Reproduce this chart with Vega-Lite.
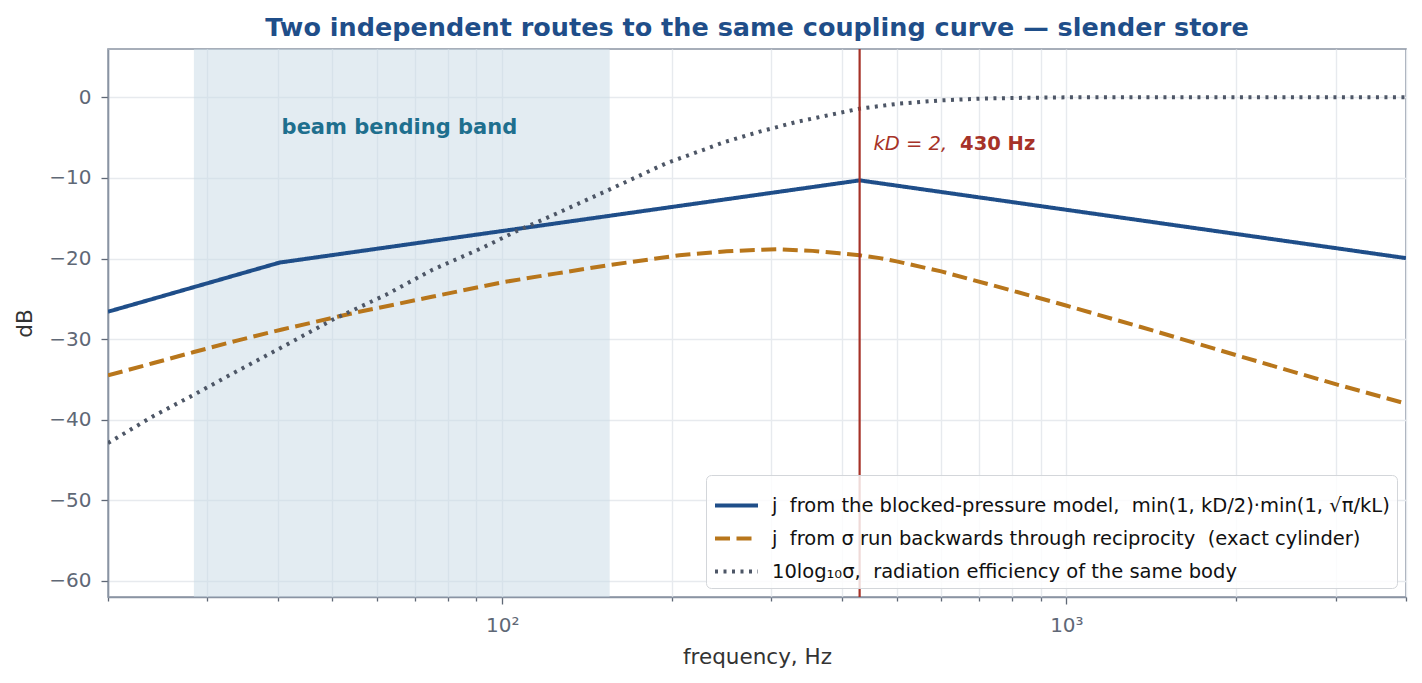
{
  "$schema": "https://vega.github.io/schema/vega-lite/v6.json",
  "width": 1298,
  "height": 548,
  "autosize": {"type": "none"},
  "padding": {"left": 108, "top": 49, "right": 16, "bottom": 86},
  "title": {
    "text": "Two independent routes to the same coupling curve — slender store",
    "fontSize": 25.5,
    "fontWeight": "bold",
    "color": "#1f4e89",
    "font": "DejaVu Sans",
    "offset": 6
  },
  "config": {
    "font": "DejaVu Sans",
    "view": {"stroke": "#8a94a3", "strokeWidth": 1.6},
    "axis": {
      "labelFont": "DejaVu Sans",
      "labelFontSize": 20,
      "labelColor": "#5f6876",
      "titleFont": "DejaVu Sans",
      "titleFontSize": 21.5,
      "titleFontWeight": "normal",
      "titleColor": "#333333",
      "domainColor": "#8a94a3",
      "domainWidth": 1.6,
      "tickColor": "#5f6876",
      "tickWidth": 1.3,
      "gridColor": "#e7eaee",
      "gridWidth": 1.4
    }
  },
  "datasets": {
    "curves": [
      {"f": 20, "db": -26.6, "series": "blocked"},
      {"f": 40.3, "db": -20.5, "series": "blocked"},
      {"f": 430, "db": -10.3, "series": "blocked"},
      {"f": 4000, "db": -19.95, "series": "blocked"},

      {"f": 20, "db": -34.5, "series": "recip"},
      {"f": 24, "db": -33.0, "series": "recip"},
      {"f": 28.4, "db": -31.6, "series": "recip"},
      {"f": 34, "db": -30.15, "series": "recip"},
      {"f": 40.7, "db": -28.8, "series": "recip"},
      {"f": 55, "db": -26.7, "series": "recip"},
      {"f": 75, "db": -24.75, "series": "recip"},
      {"f": 100, "db": -22.95, "series": "recip"},
      {"f": 125, "db": -21.84, "series": "recip"},
      {"f": 155, "db": -20.8, "series": "recip"},
      {"f": 206, "db": -19.6, "series": "recip"},
      {"f": 250, "db": -19.1, "series": "recip"},
      {"f": 280, "db": -18.93, "series": "recip"},
      {"f": 310, "db": -18.85, "series": "recip"},
      {"f": 355, "db": -19.05, "series": "recip"},
      {"f": 396, "db": -19.35, "series": "recip"},
      {"f": 430, "db": -19.6, "series": "recip"},
      {"f": 467, "db": -19.95, "series": "recip"},
      {"f": 500, "db": -20.35, "series": "recip"},
      {"f": 600, "db": -21.6, "series": "recip"},
      {"f": 794, "db": -23.9, "series": "recip"},
      {"f": 995, "db": -25.8, "series": "recip"},
      {"f": 1355, "db": -28.5, "series": "recip"},
      {"f": 2003, "db": -32.0, "series": "recip"},
      {"f": 2970, "db": -35.5, "series": "recip"},
      {"f": 4000, "db": -38.0, "series": "recip"},

      {"f": 20, "db": -42.9, "series": "sigma"},
      {"f": 24, "db": -39.6, "series": "sigma"},
      {"f": 28.4, "db": -36.9, "series": "sigma"},
      {"f": 33.2, "db": -34.3, "series": "sigma"},
      {"f": 40.2, "db": -31.2, "series": "sigma"},
      {"f": 50, "db": -27.6, "series": "sigma"},
      {"f": 62.2, "db": -24.5, "series": "sigma"},
      {"f": 75.2, "db": -21.4, "series": "sigma"},
      {"f": 92, "db": -18.7, "series": "sigma"},
      {"f": 106, "db": -16.6, "series": "sigma"},
      {"f": 125, "db": -14.4, "series": "sigma"},
      {"f": 152, "db": -11.7, "series": "sigma"},
      {"f": 195, "db": -8.2, "series": "sigma"},
      {"f": 249, "db": -5.5, "series": "sigma"},
      {"f": 286, "db": -4.25, "series": "sigma"},
      {"f": 332, "db": -3.06, "series": "sigma"},
      {"f": 430, "db": -1.4, "series": "sigma"},
      {"f": 502, "db": -0.8, "series": "sigma"},
      {"f": 600, "db": -0.37, "series": "sigma"},
      {"f": 700, "db": -0.16, "series": "sigma"},
      {"f": 850, "db": -0.05, "series": "sigma"},
      {"f": 1000, "db": 0, "series": "sigma"},
      {"f": 2000, "db": 0, "series": "sigma"},
      {"f": 4000, "db": 0, "series": "sigma"}
    ],
    "band": [{"f0": 28.4, "f1": 155}],
    "marker": [{"f": 430}],
    "band_note": [{"f": 65.7, "db": -3.8, "label": "beam bending band"}],
    "kd_note": [{"f": 455, "db": -5.85, "label": "kD = 2,"}],
    "hz_note": [{"f": 648, "db": -5.85, "label": "430 Hz"}]
  },
  "layer": [
    {
      "data": {"name": "band"},
      "mark": {"type": "rect", "fill": "#c8d9e6", "opacity": 0.5},
      "encoding": {
        "x": {
          "field": "f0",
          "type": "quantitative",
          "scale": {"type": "log", "domain": [20, 4000], "nice": false},
          "title": "frequency, Hz",
          "axis": {
            "values": [20, 30, 40, 50, 60, 70, 80, 90, 100, 200, 300, 400, 500, 600, 700, 800, 900, 1000, 2000, 3000, 4000],
            "labelExpr": "datum.value == 100 ? '10²' : datum.value == 1000 ? '10³' : ''",
            "labelOverlap": false,
            "labelFlush": false,
            "tickSize": {"condition": {"test": "datum.value == 100 || datum.value == 1000", "value": 7}, "value": 4},
            "labelPadding": 11,
            "titlePadding": 11,
            "grid": true
          }
        },
        "x2": {"field": "f1"}
      }
    },
    {
      "data": {"name": "curves"},
      "mark": {"type": "line", "clip": true, "strokeCap": "butt"},
      "encoding": {
        "x": {"field": "f", "type": "quantitative", "title": "frequency, Hz"},
        "y": {
          "field": "db",
          "type": "quantitative",
          "scale": {"domain": [-62, 6], "nice": false, "zero": false},
          "title": "dB",
          "axis": {
            "values": [-60, -50, -40, -30, -20, -10, 0],
            "tickSize": 7,
            "labelPadding": 10,
            "titlePadding": 12,
            "grid": true
          }
        },
        "color": {
          "field": "series",
          "type": "nominal",
          "scale": {
            "domain": ["blocked", "recip", "sigma"],
            "range": ["#1f4e89", "#b8761b", "#4d5666"]
          },
          "legend": {
            "title": null,
            "orient": "bottom-right",
            "offset": 9,
            "labelExpr": "datum.label == 'blocked' ? 'j\u00a0\u00a0from the blocked-pressure model,\u00a0\u00a0min(1, kD/2)·min(1, √π/kL)' : datum.label == 'recip' ? 'j\u00a0\u00a0from σ run backwards through reciprocity\u00a0\u00a0(exact cylinder)' : '10log₁₀σ,\u00a0\u00a0radiation efficiency of the same body'",
            "fillColor": "rgba(255,255,255,0.82)",
            "strokeColor": "#d3d6da",
            "cornerRadius": 5,
            "padding": 7,
            "labelFont": "DejaVu Sans",
            "labelFontSize": 19.5,
            "labelColor": "#111111",
            "labelLimit": 900,
            "labelOffset": 12,
            "symbolType": "stroke",
            "symbolSize": 1849,
            "rowPadding": 0
          }
        },
        "strokeDash": {
          "field": "series",
          "type": "nominal",
          "scale": {
            "domain": ["blocked", "recip", "sigma"],
            "range": [[1, 0], [15, 6.5], [3, 5.5]]
          }
        },
        "strokeWidth": {
          "field": "series",
          "type": "nominal",
          "scale": {
            "domain": ["blocked", "recip", "sigma"],
            "range": [4, 4, 2.8]
          }
        }
      }
    },
    {
      "data": {"name": "marker"},
      "mark": {"type": "rule", "color": "#a63228", "strokeWidth": 2.2},
      "encoding": {
        "x": {"field": "f", "type": "quantitative", "title": "frequency, Hz"}
      }
    },
    {
      "data": {"name": "band_note"},
      "mark": {"type": "text", "fontWeight": "bold", "fontSize": 21, "color": "#1e6f8e", "align": "center", "baseline": "middle"},
      "encoding": {
        "x": {"field": "f", "type": "quantitative", "title": "frequency, Hz"},
        "y": {"field": "db", "type": "quantitative", "title": "dB"},
        "text": {"field": "label"}
      }
    },
    {
      "data": {"name": "kd_note"},
      "mark": {"type": "text", "fontStyle": "italic", "fontSize": 19.5, "color": "#a63228", "align": "left", "baseline": "middle"},
      "encoding": {
        "x": {"field": "f", "type": "quantitative", "title": "frequency, Hz"},
        "y": {"field": "db", "type": "quantitative", "title": "dB"},
        "text": {"field": "label"}
      }
    },
    {
      "data": {"name": "hz_note"},
      "mark": {"type": "text", "fontWeight": "bold", "fontSize": 19.5, "color": "#a63228", "align": "left", "baseline": "middle"},
      "encoding": {
        "x": {"field": "f", "type": "quantitative", "title": "frequency, Hz"},
        "y": {"field": "db", "type": "quantitative", "title": "dB"},
        "text": {"field": "label"}
      }
    }
  ]
}
